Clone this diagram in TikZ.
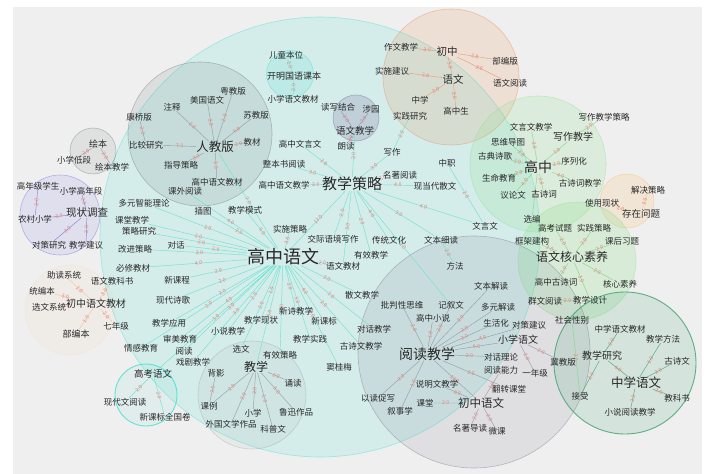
\documentclass[tikz,border=0pt]{standalone}
\usepackage{fontspec}
\setmainfont{Noto Sans CJK SC}
\usetikzlibrary{backgrounds}

\definecolor{pagegray}{RGB}{239,239,239}
\definecolor{labeltext}{RGB}{40,40,40}
\definecolor{weightred}{RGB}{235,125,120}
\definecolor{cyanfill}{RGB}{64,224,208}
\definecolor{cyanline}{RGB}{110,228,208}
\definecolor{grayfill}{RGB}{110,125,125}
\definecolor{grayline}{RGB}{150,160,165}
\definecolor{purplefill}{RGB}{110,100,150}
\definecolor{purpleline}{RGB}{150,140,180}
\definecolor{readfill}{RGB}{120,120,140}
\definecolor{orangefill}{RGB}{235,140,80}
\definecolor{orangeline}{RGB}{232,160,120}
\definecolor{greenfill}{RGB}{144,225,144}
\definecolor{greenline}{RGB}{135,215,135}
\definecolor{tealfill}{RGB}{60,160,110}
\definecolor{tealline}{RGB}{80,170,125}
\definecolor{bluefill}{RGB}{110,110,230}
\definecolor{blueline}{RGB}{130,130,225}
\definecolor{beigefill}{RGB}{250,190,110}
\definecolor{beigeline}{RGB}{240,200,160}

\begin{document}
\begin{tikzpicture}[
    x=1pt, y=-1pt,
    every node/.style={font=\fontsize{8.5}{9}\selectfont, text=labeltext, inner sep=0pt},
    hub/.style={font=\fontsize{#1}{#1}\selectfont},
    zone/.style={fill=#1, fill opacity=0.15, draw=#1, draw opacity=0.45, line width=0.6pt},
    conn/.style={draw=#1, line width=0.45pt},
    wt/.style={sloped, font=\fontsize{5.2}{5.2}\selectfont, text=weightred, inner sep=0.8pt}
]
\useasboundingbox (0,0) rectangle (710,474);

% 人教版
\node[hub=12.5] (rjb) at (215,147) {人教版};
\node (zs)     at (172,107) {注释};
\node (mgyw)   at (207,100) {美国语文};
\node (yjb)    at (233,91)  {粤教版};
\node (kqb)    at (139,117) {康桥版};
\node (sjb)    at (256,115) {苏教版};
\node (bjyj)   at (146,145) {比较研究};
\node (jc)     at (252,142) {教材};
\node (zdcl)   at (181,165) {指导策略};
\node (gzywjc) at (217,182) {高中语文教材};
\node (kwyd)   at (185,191) {课外阅读};

% 绘本
\node[hub=9] (hb) at (98,144) {绘本};
\node (xxdd) at (74,160)  {小学低段};
\node (hbjx) at (112,167) {绘本教学};

% 开明国语课本
\node (etbw)         at (286,55) {儿童本位};
\node[hub=9] (kmgy)  at (294,76) {开明国语课本};
\node (xxywjc)       at (293,99) {小学语文教材};

% 语文教学
\node (dxjh)            at (338,107) {读写结合};
\node[hub=9.5] (ywjx)   at (355,131) {语文教学};
\node (sy)              at (371,109) {涉园};
\node (ld)              at (346,146) {朗读};

% 初中
\node (zwjx)           at (401,47)  {作文教学};
\node[hub=10.5] (cz)   at (447,52)  {初中};
\node (bbb2)           at (505,61)  {部编版};
\node (ssjy)           at (392,71)  {实施建议};
\node[hub=10.5] (yw)   at (453,79)  {语文};
\node (ywyd)           at (510,83)  {语文阅读};
\node (zx)             at (420,100) {中学};
\node (sjyj)           at (410,116) {实践研究};
\node (gzs)            at (456,111) {高中生};

% 高中
\node (xzjxcl)        at (604,117) {写作教学策略};
\node (wywjx)         at (531,127) {文言文教学};
\node[hub=10] (xzjx)  at (573,137) {写作教学};
\node (swdt)          at (508,142) {思维导图};
\node (gdsg)          at (495,156) {古典诗歌};
\node[hub=14] (gz)    at (538,167) {高中};
\node (xlh)           at (574,161) {序列化};
\node (smjy)          at (499,178) {生命教育};
\node (gscjx)         at (580,183) {古诗词教学};
\node (ylw)           at (513,195) {议论文};
\node (gsc)           at (544,194) {古诗词};
\node (xb)            at (532,219) {选编};

% 解决策略
\node (jjcl)            at (648,190) {解决策略};
\node (syxz)            at (602,203) {使用现状};
\node[hub=9.5] (czwt)   at (641,214) {存在问题};

% 语文核心素养
\node (gkst)          at (555,228) {高考试题};
\node (sjcl)          at (594,228) {实践策略};
\node (kjjg)          at (532,241) {框架建构};
\node (khxt)          at (622,241) {课后习题};
\node[hub=12] (hx)    at (572,257) {语文核心素养};
\node (gzgsc)         at (556,282) {高中古诗词};
\node (hxsy)          at (620,284) {核心素养};
\node (qwyd)          at (545,301) {群文阅读};
\node (jxsj2)         at (590,300) {教学设计};
\node (shxb)          at (572,320) {社会性别};

% 中学语文
\node (zxywjc)          at (620,329) {中学语文教材};
\node (jxff)            at (663,339) {教学方法};
\node[hub=10] (jxyj)    at (602,356) {教学研究};
\node (gsw)             at (677,361) {古诗文};
\node[hub=12.5] (zxyw)  at (636,383) {中学语文};
\node (jks)             at (677,398) {教科书};
\node (js)              at (580,396) {接受};
\node (xsydjx)          at (630,412) {小说阅读教学};

% 阅读教学
\node (wbjd)            at (491,286) {文本解读};
\node (ppxsw)           at (402,305) {批判性思维};
\node (jxw)             at (451,305) {记叙文};
\node (dyjd)            at (498,307) {多元解读};
\node (gzxs)            at (433,318) {高中小说};
\node (shh)             at (496,323) {生活化};
\node (dcjy)            at (529,325) {对策建议};
\node (dhjx)            at (374,329) {对话教学};
\node[hub=10] (xxyw)    at (518,340) {小学语文};
\node (jjb)             at (563,362) {冀教版};
\node[hub=14] (ydjx)    at (427,354) {阅读教学};
\node (dhll)            at (501,357) {对话理论};
\node (ydnl)            at (501,370) {阅读能力};
\node (ynj)             at (535,373) {一年级};
\node (smwjx)           at (437,384) {说明文教学};
\node (fzkt)            at (509,389) {翻转课堂};
\node (ydcx)            at (378,398) {以读促写};
\node (kt)              at (425,403) {课堂};
\node[hub=11.5] (czyw)  at (481,403) {初中语文};
\node (xsx)             at (400,411) {叙事学};
\node (mzdd)            at (470,428) {名著导读};
\node (wk)              at (497,431) {微课};

% 高中语文 / 教学策略
\node[hub=18] (gzyw)  at (283,257) {高中语文};
\node[hub=15] (jxcl)  at (352,184) {教学策略};
\node (gzwyw)  at (300,144) {高中文言文};
\node (zbsyd)  at (284,164) {整本书阅读};
\node (gzywjx) at (284,185) {高中语文教学};
\node (xz)     at (392,152) {写作};
\node (zz)     at (447,163) {中职};
\node (mzyd)   at (400,175) {名著阅读};
\node (xddsw)  at (435,186) {现当代散文};
\node (wyw)    at (485,226) {文言文};
\node (ct)     at (203,211) {插图};
\node (jxms)   at (245,210) {教学模式};
\node (sscl)   at (290,229) {实施策略};
\node (jjyj)   at (333,239) {交际语境写作};
\node (ctwh)   at (389,240) {传统文化};
\node (wbxd)   at (441,240) {文本细读};
\node (yxjx)   at (371,255) {有效教学};
\node (ywjc)   at (343,266) {语文教材};
\node (ff)     at (455,266) {方法};
\node (swjx)   at (362,295) {散文教学};
\node (dyzn)   at (144,203) {多元智能理论};
\node (ktjx)   at (132,220) {课堂教学};
\node (clyj)   at (139,231) {策略研究};
\node (gjcl)   at (135,249) {改进策略};
\node (dh)     at (176,245) {对话};
\node (bxjc)   at (133,268) {必修教材};
\node (xkc)    at (177,280) {新课程};
\node (xdsg)   at (173,300) {现代诗歌};
\node (xsjx2)  at (296,311) {新诗教学};
\node (jxyy)   at (169,323) {教学应用};
\node (jxxz)   at (261,320) {教学现状};
\node (xkb)    at (324,321) {新课标};
\node (xsjx)   at (228,331) {小说教学};
\node (smjy2)  at (180,339) {审美教育};
\node (jxsj)   at (310,339) {教学实践};
\node (gswjx)  at (361,346) {古诗文教学};
\node (qgjy)   at (141,348) {情感教育};
\node (yd)     at (184,351) {阅读};
\node (xw)     at (241,349) {选文};
\node (yxcl)   at (280,355) {有效策略};
\node (xjjx)   at (193,362) {戏剧教学};
\node (dgm)    at (339,367) {窦桂梅};

% 现状调查
\node (gnjxs)            at (38,186)  {高年级学生};
\node (xxgnd)            at (81,191)  {小学高年段};
\node (ncxx)             at (35,219)  {农村小学};
\node[hub=10.5] (xzdc)   at (87,213)  {现状调查};
\node (dcyj)             at (49,245)  {对策研究};
\node (jxjy)             at (86,245)  {教学建议};

% 部编本
\node (zdxt)             at (64,275)  {助读系统};
\node (ywjks)            at (112,281) {语文教科书};
\node (tbb)              at (42,291)  {统编本};
\node (xwxt)             at (49,307)  {选文系统};
\node[hub=10] (czywjc)   at (96,304)  {初中语文教材};
\node (qnj)              at (116,326) {七年级};
\node[hub=9] (bbb)       at (76,334)  {部编本};

% 教学
\node[hub=12] (jx) at (256,367) {教学};
\node (by)     at (216,373) {背影};
\node (sd)     at (293,383) {诵读};
\node (kl)     at (209,406) {课例};
\node (xx)     at (253,413) {小学};
\node (lxzp)   at (296,412) {鲁迅作品};
\node (wgwxzp) at (231,424) {外国文学作品};
\node (kpw)    at (273,429) {科普文};

% 高考语文
\node[hub=9.5] (gkyw) at (153,374) {高考语文};
\node (xdwyd)  at (125,402) {现代文阅读};
\node (xkbqgj) at (165,417) {新课标全国卷};

\begin{scope}[on background layer]
% Clusters
\fill[pagegray] (13,7) rectangle (702,474);
\draw[zone=cyanfill] (320,237) circle[radius=220pt];
\draw[zone=grayfill, fill opacity=0.14] (200,134) circle[radius=72pt];
\draw[zone=grayfill, fill opacity=0.12] (93,151) circle[radius=23pt];
\draw[zone=cyanfill, fill opacity=0.15] (290,74) circle[radius=23.5pt];
\draw[zone=purplefill, fill opacity=0.2] (356,118) circle[radius=23pt];
\draw[zone=orangefill, fill opacity=0.16] (451,77) circle[radius=68pt];
\draw[zone=greenfill, fill opacity=0.2] (538,164) circle[radius=68pt];
\draw[zone=beigefill, fill opacity=0.2] (627,201) circle[radius=27pt];
\draw[zone=greenfill, fill opacity=0.25] (577,261) circle[radius=59pt];
\draw[zone=readfill, fill opacity=0.13] (474,352) circle[radius=116pt];
\draw[zone=tealfill, fill opacity=0.15, draw opacity=0.8, line width=0.9pt] (625,363) circle[radius=71pt];
\draw[zone=bluefill, fill opacity=0.12] (60,215) circle[radius=40pt];
\draw[zone=beigefill, fill opacity=0.06, draw opacity=0.1] (70,310) circle[radius=45pt];
\draw[zone=grayfill, fill opacity=0.06, draw opacity=0.25] (252,395) circle[radius=54pt];
\draw[zone=cyanfill, fill opacity=0.08, draw opacity=0.8, line width=0.9pt] (146,395) circle[radius=31pt];

% 高中语文
\draw[conn=cyanline]
  (gzyw) -- node[wt]{17.0} (jxcl)
  (gzyw) -- node[wt]{7.0} (rjb)
  (gzyw) -- node[wt]{4.0} (kwyd)
  (gzyw) -- node[wt]{6.0} (jxms)
  (gzyw) -- node[wt]{2.0} (ct)
  (gzyw) -- node[wt]{3.0} (sscl)
  (gzyw) -- node[wt]{2.0} (dyzn)
  (gzyw) -- node[wt]{2.0} (ktjx)
  (gzyw) -- node[wt]{2.0} (clyj)
  (gzyw) -- node[wt]{2.0} (gjcl)
  (gzyw) -- node[wt]{2.0} (dh)
  (gzyw) -- node[wt]{4.0} (bxjc)
  (gzyw) -- node[wt]{2.0} (xkc)
  (gzyw) -- node[wt]{2.0} (xdsg)
  (gzyw) -- node[wt]{2.0} (jxyy)
  (gzyw) -- node[wt]{4.0} (smjy2)
  (gzyw) -- node[wt]{2.0} (qgjy)
  (gzyw) -- node[wt]{3.0} (yd)
  (gzyw) -- node[wt]{3.0} (xjjx)
  (gzyw) -- node[wt]{2.0} (xsjx)
  (gzyw) -- node[wt]{1.0} (jxxz)
  (gzyw) -- node[wt]{2.0} (xw)
  (gzyw) -- node[wt]{6.0} (jx)
  (gzyw) -- node[wt]{2.0} (yxcl)
  (gzyw) -- node[wt]{2.0} (xsjx2)
  (gzyw) -- node[wt]{4.0} (xkb)
  (gzyw) -- node[wt]{3.0} (jxsj)
  (gzyw) -- node[wt]{2.0} (gswjx)
  (gzyw) -- node[wt]{2.0} (dhjx)
  (gzyw) -- node[wt]{2.0} (swjx)
  (gzyw) -- node[wt]{2.0} (ywjc)
  (gzyw) -- node[wt]{2.0} (dgm)
  (gzyw) -- node[wt]{3.0} (gkyw);

% 教学策略
\draw[conn=cyanline]
  (jxcl) -- node[wt]{3.0} (zbsyd)
  (jxcl) -- node[wt]{2.0} (gzywjx)
  (jxcl) -- node[wt]{2.0} (gzwyw)
  (jxcl) -- node[wt]{2.0} (ywjx)
  (jxcl) -- node[wt]{3.0} (xz)
  (jxcl) -- node[wt]{2.0} (mzyd)
  (jxcl) -- node[wt]{4.0} (xddsw)
  (jxcl) -- node[wt]{4.0} (wyw)
  (jxcl) -- node[wt]{2.0} (jjyj)
  (jxcl) -- node[wt]{4.0} (ctwh)
  (jxcl) -- node[wt]{3.0} (wbxd)
  (jxcl) -- node[wt]{2.0} (yxjx)
  (jxcl) -- node[wt]{3.0} (ywjc)
  (jxcl) -- node[wt]{2.0} (jxw)
  (zz) -- node[wt]{2.0} (wyw)
  (wbxd) -- node[wt]{2.0} (ff)
  (xz) -- node[wt]{2.0} (sjyj)
  (kmgy) -- node[wt]{2.0} (etbw)
  (kmgy) -- node[wt]{2.0} (xxywjc)
  (gkyw) -- node[wt]{2.0} (xdwyd)
  (gkyw) -- node[wt]{2.0} (xkbqgj);

% 人教版, 绘本, 教学
\draw[conn=grayline]
  (rjb) -- node[wt]{2.0} (zs)
  (rjb) -- node[wt]{2.0} (mgyw)
  (rjb) -- node[wt]{2.0} (yjb)
  (rjb) -- node[wt]{6.0} (sjb)
  (rjb) -- node[wt]{2.0} (jc)
  (rjb) -- node[wt]{7.0} (bjyj)
  (rjb) -- node[wt]{3.0} (zdcl)
  (rjb) -- node[wt]{3.0} (gzywjc)
  (kqb) -- node[wt]{2.0} (bjyj)
  (hb) -- node[wt]{2.0} (xxdd)
  (hb) -- node[wt]{2.0} (hbjx)
  (jx) -- node[wt]{2.0} (sd)
  (jx) -- node[wt]{3.0} (lxzp)
  (jx) -- node[wt]{1.0} (kpw)
  (jx) -- node[wt]{2.0} (xx)
  (jx) -- node[wt]{2.0} (wgwxzp)
  (jx) -- node[wt]{2.0} (kl)
  (by) -- node[wt]{2.0} (kl);

% 语文教学
\draw[conn=purpleline]
  (ywjx) -- node[wt]{2.0} (dxjh)
  (ywjx) -- node[wt]{2.0} (sy)
  (ywjx) -- node[wt]{2.0} (ld);

% 初中
\draw[conn=orangeline]
  (cz) -- node[wt]{3.0} (zwjx)
  (cz) -- node[wt]{2.0} (bbb2)
  (cz) -- node[wt]{2.0} (ywyd)
  (cz) -- node[wt]{5.0} (yw)
  (yw) -- node[wt]{2.0} (ssjy)
  (yw) -- node[wt]{2.0} (zx)
  (yw) -- node[wt]{2.0} (gzs);

% 高中, 语文核心素养
\draw[conn=greenline]
  (gz) -- node[wt]{3.0} (wywjx)
  (gz) -- node[wt]{1.0} (xzjx)
  (gz) -- node[wt]{2.0} (swdt)
  (gz) -- node[wt]{2.0} (gdsg)
  (gz) -- node[wt]{2.0} (smjy)
  (gz) -- node[wt]{4.0} (ylw)
  (gz) -- node[wt]{2.0} (gsc)
  (gz) -- node[wt]{2.0} (xlh)
  (gz) -- node[wt]{4.0} (gscjx)
  (gz) -- node[wt]{2.0} (xb)
  (xzjx) -- node[wt]{2.0} (xzjxcl)
  (hx) -- node[wt]{2.0} (gkst)
  (hx) -- node[wt]{2.0} (sjcl)
  (hx) -- node[wt]{2.0} (kjjg)
  (hx) -- node[wt]{2.0} (khxt)
  (hx) -- node[wt]{2.0} (gzgsc)
  (hx) -- node[wt]{2.0} (hxsy)
  (hx) -- node[wt]{3.0} (jxsj2)
  (jxsj2) -- node[wt]{2.0} (qwyd)
  (shxb) -- node[wt]{2.0} (js);

% 解决策略, 部编本
\draw[conn=beigeline]
  (czwt) -- node[wt]{2.0} (jjcl)
  (czwt) -- node[wt]{2.0} (syxz)
  (czywjc) -- node[wt]{2.0} (zdxt)
  (czywjc) -- node[wt]{3.0} (ywjks)
  (czywjc) -- node[wt]{3.0} (tbb)
  (czywjc) -- node[wt]{3.0} (xwxt)
  (czywjc) -- node[wt]{1.0} (bbb)
  (czywjc) -- node[wt]{2.0} (qnj);

% 中学语文
\draw[conn=tealline]
  (zxyw) -- node[wt]{6.0} (jxyj)
  (zxyw) -- node[wt]{1.0} (jxff)
  (zxyw) -- node[wt]{2.0} (gsw)
  (zxyw) -- node[wt]{2.0} (jks)
  (zxyw) -- node[wt]{3.0} (xsydjx)
  (jxyj) -- node[wt]{2.0} (zxywjc)
  (jxyj) -- node[wt]{2.0} (js);

% 阅读教学
\draw[conn=grayline]
  (ydjx) -- node[wt]{1.0} (gzxs)
  (ydjx) -- node[wt]{2.0} (ppxsw)
  (ydjx) -- node[wt]{2.0} (jxw)
  (ydjx) -- node[wt]{2.0} (dyjd)
  (ydjx) -- node[wt]{2.0} (shh)
  (ydjx) -- node[wt]{4.0} (dcjy)
  (ydjx) -- node[wt]{6.0} (xxyw)
  (ydjx) -- node[wt]{2.0} (dhll)
  (ydjx) -- node[wt]{2.0} (fzkt)
  (ydjx) -- node[wt]{13.0} (czyw)
  (ydjx) -- node[wt]{2.0} (ydcx)
  (ydjx) -- node[wt]{1.0} (xsx)
  (ydjx) -- node[wt]{2.0} (wbjd)
  (czyw) -- node[wt]{2.0} (kt)
  (czyw) -- node[wt]{2.0} (mzdd)
  (czyw) -- node[wt]{2.0} (wk)
  (czyw) -- node[wt]{1.0} (ydnl)
  (czyw) -- node[wt]{2.0} (smwjx)
  (xxyw) -- node[wt]{2.0} (ynj)
  (xxyw) -- node[wt]{2.0} (jjb);

% 现状调查
\draw[conn=blueline]
  (xzdc) -- node[wt]{2.0} (xxgnd)
  (xzdc) -- node[wt]{3.0} (ncxx)
  (xzdc) -- node[wt]{3.0} (dcyj)
  (xzdc) -- node[wt]{2.0} (jxjy)
  (gnjxs) -- node[wt]{2.0} (ncxx);
\end{scope}
\end{tikzpicture}
\end{document}
